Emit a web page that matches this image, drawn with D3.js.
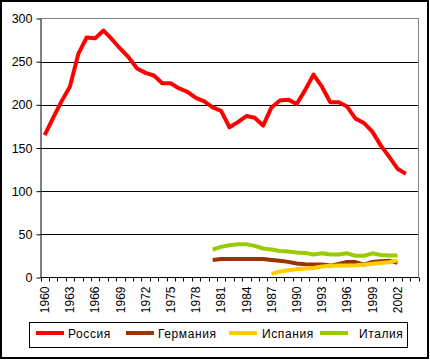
<!DOCTYPE html>
<html><head><meta charset="utf-8">
<script src="https://cdn.jsdelivr.net/npm/d3@7"></script>
<style>body{margin:0;background:#fff}svg{display:block}text{font-family:Arial,"Liberation Sans",sans-serif;fill:#000}</style>
</head><body><svg id="c" width="430" height="360"></svg>
<script>
const years = [1960,1961,1962,1963,1964,1965,1966,1967,1968,1969,1970,1971,1972,1973,1974,1975,1976,1977,1978,1979,1980,1981,1982,1983,1984,1985,1986,1987,1988,1989,1990,1991,1992,1993,1994,1995,1996,1997,1998,1999,2000,2001,2002,2003,2004];
const xLabels = ["1960","1963","1966","1969","1972","1975","1978","1981","1984","1987","1990","1993","1996","1999","2002"];
const yTicks = [0,50,100,150,200,250,300];
const seriesNames = ["Россия","Германия","Испания","Италия"];
const seriesColors = ["#FF0000","#993300","#FFCC00","#99CC00"];
// Russia 1960-2003
const russia = [165,185,204,221,259,278,277,286,276,265,255,242,237,234,225,225,219,215,208,204,197,193,174,180,187,185,176,197,205,206,201,217,235,221,203,203,198,184,179,169,153,140,126,120];
const russiaStart = 1960;
// Germany 1980-2002
const germany = [20.4,21.5,21.5,21.5,21.5,21.5,21.5,20.4,19.3,18.1,16.2,15.4,15.2,15.2,13.8,15.8,17.9,17.9,15.0,18.1,18.8,19.5,17.0];
const germanyStart = 1980;
// Spain 1987-2002
const spain = [4.2,6.9,8.5,9.6,10.4,11.1,12.7,13.5,13.9,13.9,14.2,14.9,15.8,16.9,17.7,19.8];
const spainStart = 1987;
// Italy 1980-2002
const italy = [32.4,35.5,37.4,38.6,38.6,36.6,33.6,32.4,30.8,30.0,29.0,28.5,26.6,28.2,26.6,26.6,28.0,25.1,25.1,28.0,26.0,25.5,25.5];
const italyStart = 1980;

const svg = d3.select("#c");
svg.append("rect").attr("x",1).attr("y",1).attr("width",427).attr("height",357)
  .attr("fill","#fff").attr("stroke","#000").attr("stroke-width",2);

const L=40.5, R=418.5, T=18.5, B=277.5;
const x = d3.scaleBand().domain(years).range([L,R]).padding(0);
const y = d3.scaleLinear().domain([0,300]).range([B,T]);

// gridlines
svg.append("g").selectAll("line").data(yTicks.filter(v=>v>0&&v<300)).join("line")
  .attr("x1",L).attr("x2",R).attr("y1",d=>Math.round(y(d))+0.5).attr("y2",d=>Math.round(y(d))+0.5)
  .attr("stroke","#000").attr("stroke-width",1);
// plot border (gray)
svg.append("path").attr("d",`M${L},${T}H${R}V${B}`).attr("fill","none").attr("stroke","#808080").attr("stroke-width",1);

// y axis
const ya = svg.append("g").attr("transform",`translate(${L},0)`)
  .call(d3.axisLeft(y).tickValues(yTicks).tickSize(4).tickPadding(4).tickSizeOuter(0));
ya.select(".domain").attr("stroke","#000");
ya.selectAll("line").attr("stroke","#000");
ya.selectAll("text").attr("font-size","12.5px").attr("font-family","Arial, 'Liberation Sans', sans-serif");

// x axis
const xg = svg.append("g");
xg.append("line").attr("x1",L).attr("x2",R).attr("y1",B).attr("y2",B).attr("stroke","#000");
const tickPos = years.map(d=>x(d)).concat([R]);
xg.selectAll("line.t").data(tickPos).join("line").attr("class","t")
  .attr("x1",d=>Math.round(d)+0.5).attr("x2",d=>Math.round(d)+0.5).attr("y1",B).attr("y2",B+4).attr("stroke","#000");
xg.selectAll("text").data(xLabels).join("text")
  .attr("transform",d=>`translate(${x(+d)+x.bandwidth()/2},${B+9}) rotate(-90)`)
  .attr("text-anchor","end").attr("dy","0.35em").attr("font-size","12px").text(d=>d);

// series
function pts(arr,start){return arr.map((v,i)=>({year:start+i,v}));}
const data = [pts(russia,russiaStart),pts(germany,germanyStart),pts(spain,spainStart),pts(italy,italyStart)];
const line = d3.line().x(d=>x(d.year)+x.bandwidth()/2).y(d=>y(d.v));
[0,1,2,3].forEach(i=>{
  svg.append("path").datum(data[i]).attr("d",line).attr("fill","none")
    .attr("stroke",seriesColors[i]).attr("stroke-width",4).attr("stroke-linejoin","round");
});

// legend
const lg = svg.append("g");
lg.append("rect").attr("x",29.5).attr("y",322.5).attr("width",378).attr("height",25).attr("fill","#fff").attr("stroke","#000");
const lx=[36,126,229,320], tx=[68,158,262,359];
seriesNames.forEach((n,i)=>{
  lg.append("line").attr("x1",lx[i]).attr("x2",lx[i]+28).attr("y1",333).attr("y2",333)
    .attr("stroke",seriesColors[i]).attr("stroke-width",4);
  lg.append("text").attr("x",tx[i]).attr("y",337.5).attr("font-size","12px").attr("letter-spacing","0.6px").text(n);
});
</script></body></html>
